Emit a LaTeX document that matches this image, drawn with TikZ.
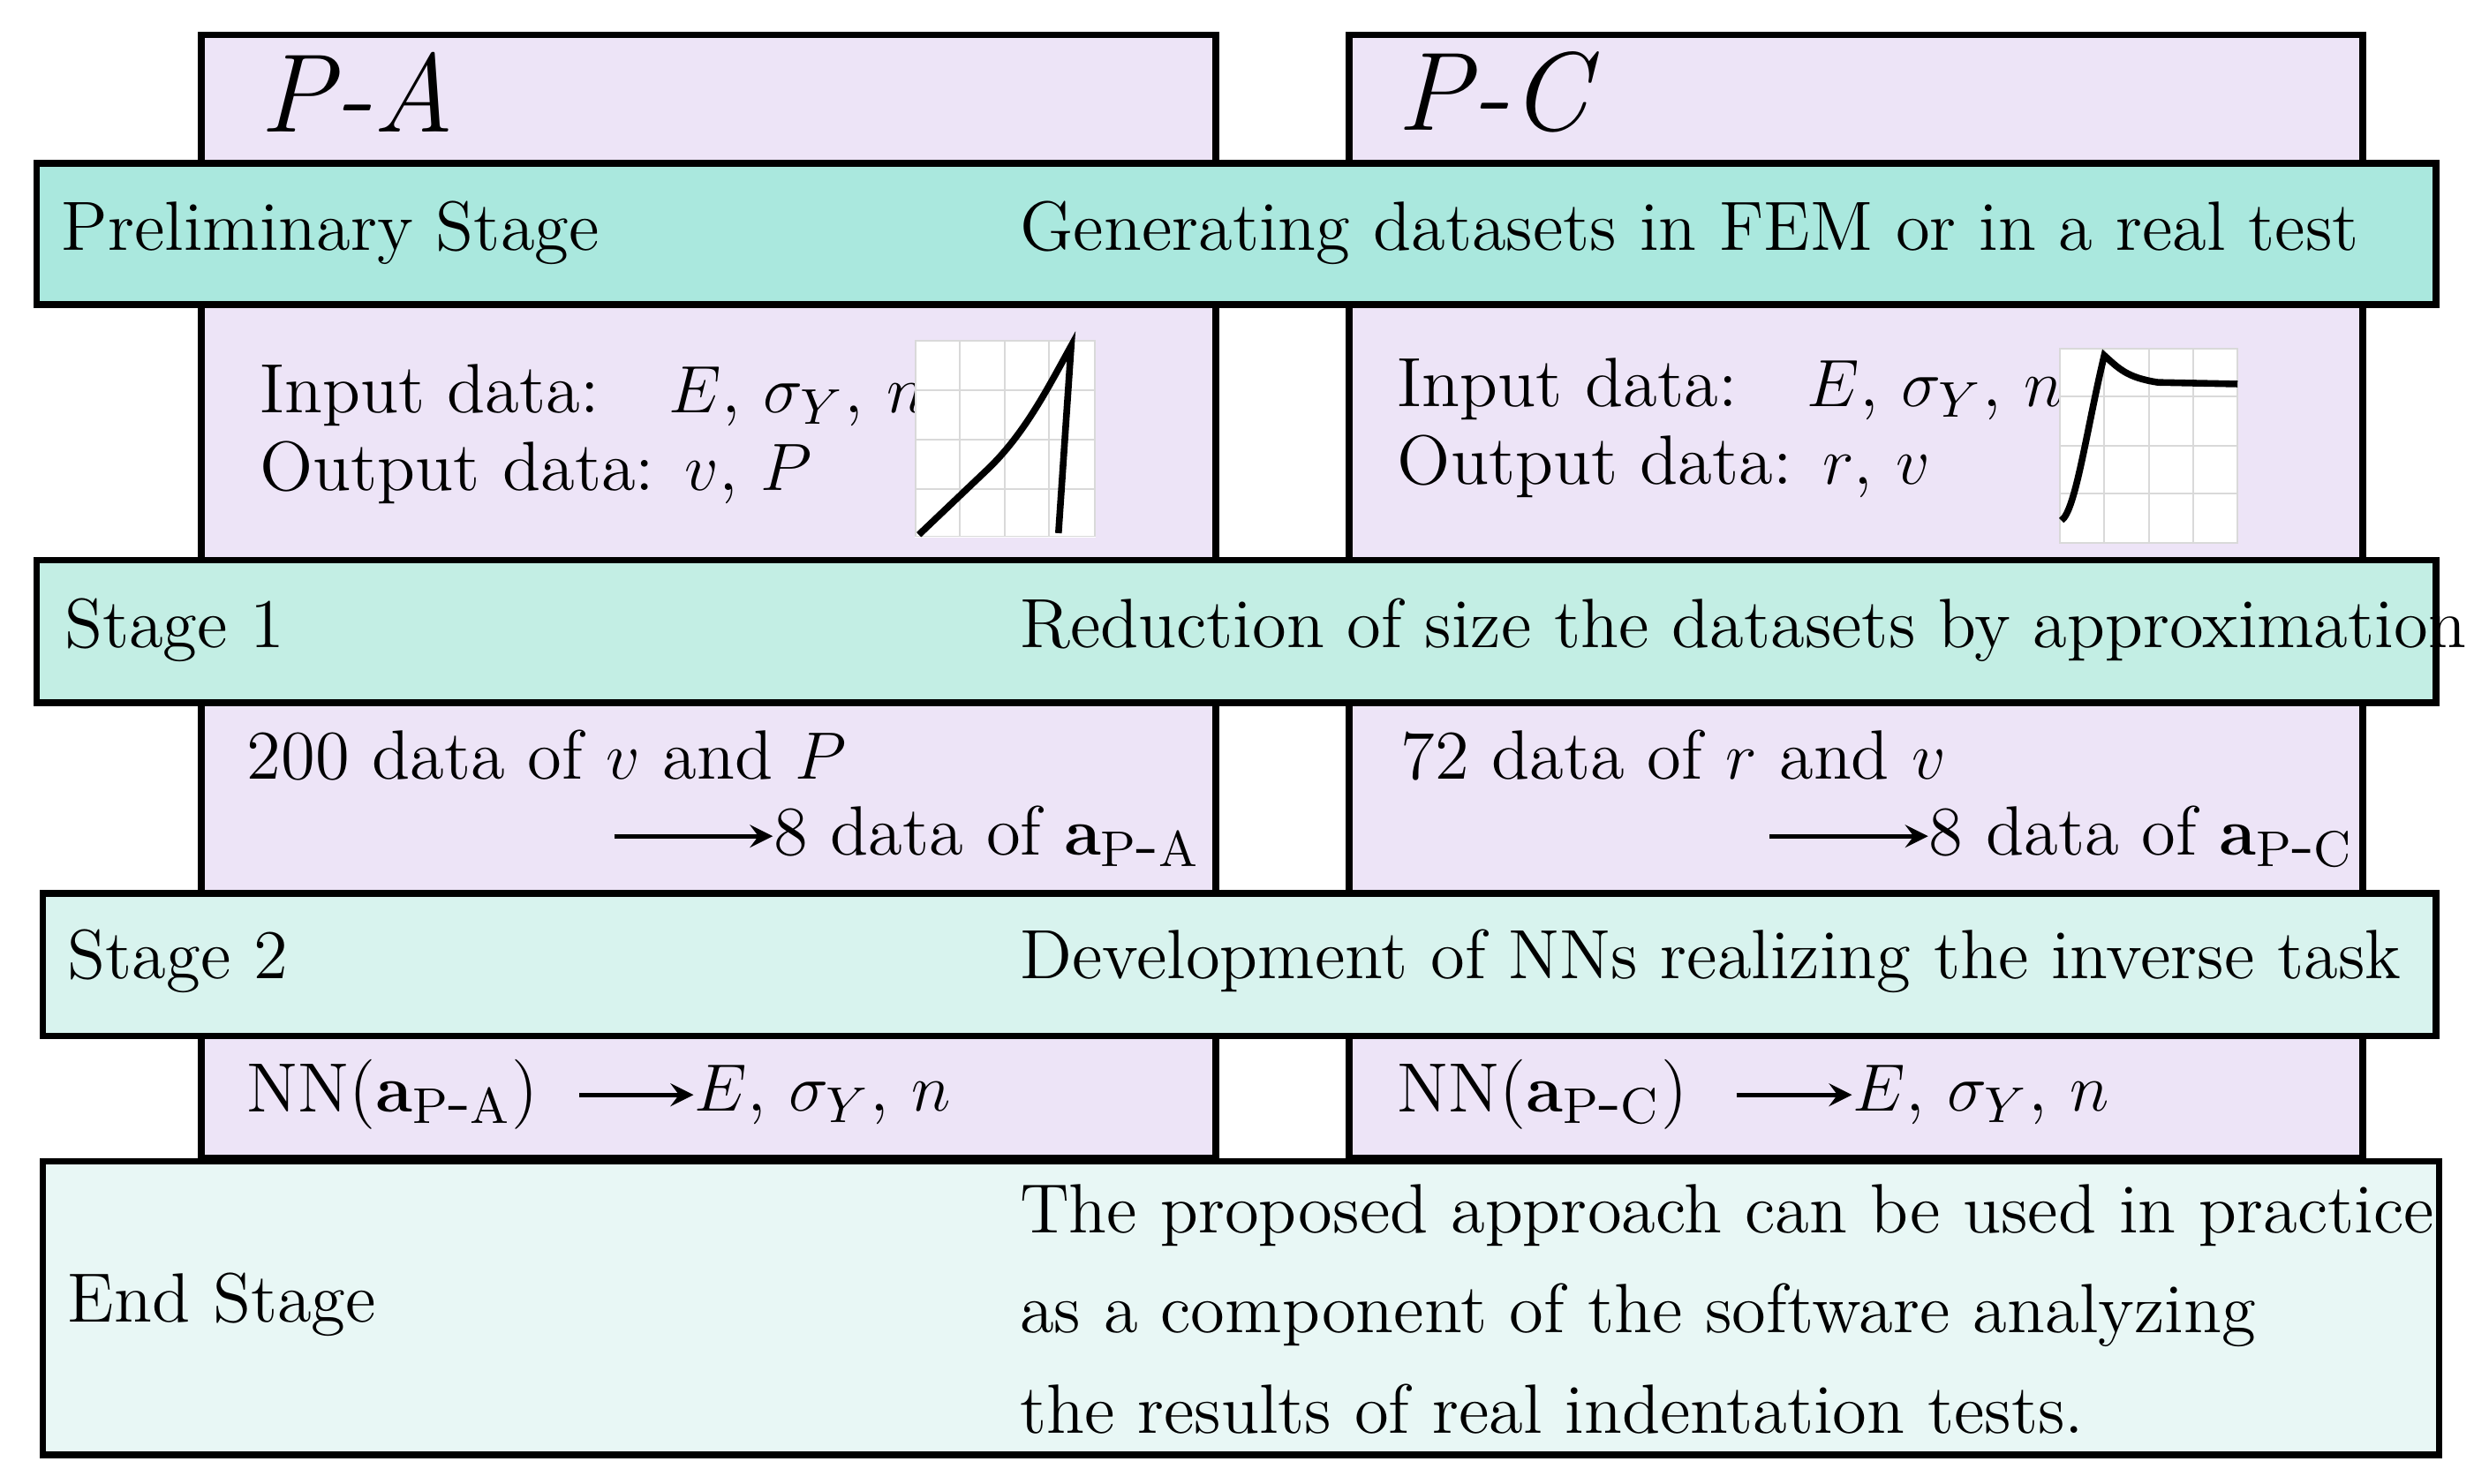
\documentclass[tikz,border=0pt]{standalone}
\begin{document}
\begin{tikzpicture}[x=0.01cm,y=-0.01cm,
 col/.style={draw,line width=1.2pt,fill={rgb,255:red,237;green,228;blue,247}},
 band/.style={draw,line width=1.2pt},
 t/.style={anchor=west,inner sep=0,font=\fontsize{12.5}{15}\selectfont},
 ar/.style={-stealth,line width=0.8pt}]
\useasboundingbox (0,0) rectangle (1559,935);
\fill[white] (0,0) rectangle (1559,935);
\draw[col] (127,22) rectangle (766,730);
\draw[col] (850,22) rectangle (1489,730);
\draw[band,fill={rgb,255:red,170;green,232;blue,222}] (23,103) rectangle (1535,192);
\draw[band,fill={rgb,255:red,195;green,238;blue,228}] (23,353) rectangle (1535,443);
\draw[band,fill={rgb,255:red,216;green,243;blue,238}] (27,563) rectangle (1535,653);
\draw[band,fill={rgb,255:red,232;green,247;blue,245}] (27,732) rectangle (1537,917);
\node[t,font=\fontsize{20}{24}\selectfont\itshape] (pa) at (163,58) {P-A};
\node[t,font=\fontsize{20}{24}\selectfont\itshape] (pc) at (880,58) {P-C};
\node[t] (s0) at (38,147) {Preliminary Stage};
\node[t] (g0) at (642,147) {Generating datasets in FEM or in a real test};
\node[t] (i1) at (163,249) {Input data:\quad $E$, $\sigma_Y$, $n$};
\node[t] (o1) at (163,298) {Output data: $v$, $P$};
\node[t] (i2) at (880,245) {Input data:\quad $E$, $\sigma_Y$, $n$};
\node[t] (o2) at (880,294) {Output data: $r$, $v$};
% plots
\draw[white,fill=white] (577,215) rectangle (690,338);
\draw[gray!30,line width=0.3pt] (577,215) rectangle (690,338)
 (605,215)--(605,338) (633,215)--(633,338) (661,215)--(661,338)
 (577,246)--(690,246) (577,277)--(690,277) (577,308)--(690,308);
\draw[line width=1.2pt] (579,337)--(620,298) .. controls (645,275) and (660,245) .. (675,218)--(667,336);
\draw[white,fill=white] (1298,220) rectangle (1410,342);
\draw[gray!30,line width=0.3pt] (1298,220) rectangle (1410,342)
 (1326,220)--(1326,342) (1354,220)--(1354,342) (1382,220)--(1382,342)
 (1298,250)--(1410,250) (1298,281)--(1410,281) (1298,311)--(1410,311);
\draw[line width=1.2pt] (1299,328) .. controls (1308,322) and (1315,270) .. (1326,224)
 .. controls (1335,232) and (1340,238) .. (1360,241) -- (1410,242);
\node[t] (s1) at (40,397) {Stage 1};
\node[t] (g1) at (642,397) {Reduction of size the datasets by approximation};
\node[t] (d1) at (155,476) {200 data of $v$ and $P$};
\node[t] (e1) at (487,527) {8 data of $\mathbf{a}_{\mathrm{P\mbox{-}A}}$};
\coordinate (a1) at (387,527);
\draw[ar] (a1) -- (e1.west);
\node[t] (d2) at (882,476) {72 data of $r$ and $v$};
\node[t] (e2) at (1215,527) {8 data of $\mathbf{a}_{\mathrm{P\mbox{-}C}}$};
\coordinate (a2) at (1115,527);
\draw[ar] (a2) -- (e2.west);
\node[t] (s2) at (42,606) {Stage 2};
\node[t] (g2) at (642,606) {Development of NNs realizing the inverse task};
\node[t] (n1) at (155,690) {NN($\mathbf{a}_{\mathrm{P\mbox{-}A}}$)};
\node[t] (r1) at (437,690) {$E$, $\sigma_Y$, $n$};
\draw[ar] (n1.east)++(25,0) coordinate (b1) (b1) -- (r1.west);
\node[t] (n2) at (880,690) {NN($\mathbf{a}_{\mathrm{P\mbox{-}C}}$)};
\node[t] (r2) at (1167,690) {$E$, $\sigma_Y$, $n$};
\draw[ar] (n2.east)++(30,0) coordinate (b2) (b2) -- (r2.west);
\node[t] (s3) at (42,822) {End Stage};
\node[t,align=left] (g3) at (642,825) {The proposed approach can be used in practice\\[3pt]as a component of the software analyzing\\[3pt]the results of real indentation tests.};
\end{tikzpicture}
\end{document}
